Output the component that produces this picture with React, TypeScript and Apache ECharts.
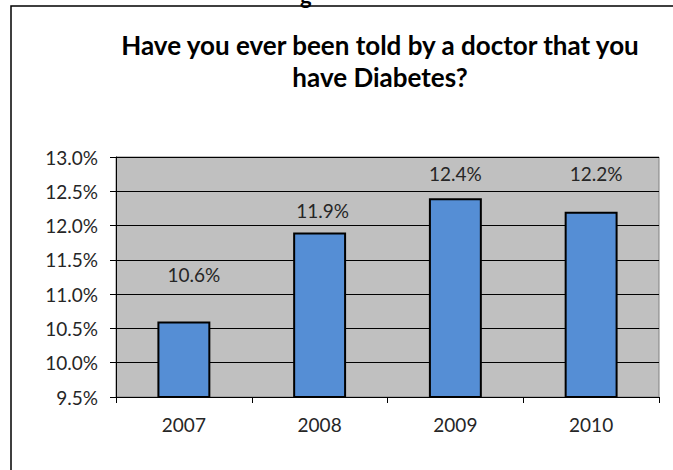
import React, { useEffect, useRef } from "react";
import * as echarts from "echarts";

const categories = ["2007", "2008", "2009", "2010"];
const values = [10.6, 11.9, 12.4, 12.2];
const yTicks = ["9.5%", "10.0%", "10.5%", "11.0%", "11.5%", "12.0%", "12.5%", "13.0%"];
const titleLines = ["Have you ever been told by a doctor that you", "have Diabetes?"];
// Manual label nudges as in the original chart (styling, not data)
const labelNudges: [number, number][] = [[10, -33], [3, -7], [0, -10], [5, -24]];

export default function App() {
  const ref = useRef<HTMLDivElement>(null);
  useEffect(() => {
    if (!ref.current) return;
    const chart = echarts.init(ref.current, null, { renderer: "svg" });
    const font = "Lato, 'Open Sans', sans-serif";
    chart.setOption({
      animation: false,
      backgroundColor: "#ffffff",
      title: {
        text: titleLines.join("\n"),
        left: 375,
        top: 24,
        textAlign: "center",
        textStyle: {
          fontFamily: font,
          fontWeight: "bold",
          fontSize: 26,
          lineHeight: 32,
          color: "#000000",
        },
      },
      graphic: [
        {
          type: "rect",
          shape: { x: 11, y: 6, width: 720, height: 520 },
          style: { fill: "none", stroke: "#000000", lineWidth: 1.5 },
          silent: true,
        },
        {
          type: "text",
          x: 300,
          y: -16,
          style: { text: "g", font: "bold 22px Lato, sans-serif", fill: "#000" },
          silent: true,
        },
      ],
      grid: {
        left: 116,
        right: 14,
        top: 157,
        bottom: 73,
        show: true,
        backgroundColor: "#C0C0C0",
        borderColor: "#808080",
        borderWidth: 1,
      },
      xAxis: {
        type: "category",
        data: categories,
        boundaryGap: true,
        axisLine: { show: true, lineStyle: { color: "#000000", width: 1 } },
        axisTick: { show: true, alignWithLabel: false, length: 6, lineStyle: { color: "#000000" } },
        axisLabel: { fontFamily: font, fontSize: 19, color: "#262626", margin: 18 },
        splitLine: { show: false },
      },
      yAxis: {
        type: "value",
        min: 9.5,
        max: 13,
        interval: 0.5,
        axisLine: { show: true, lineStyle: { color: "#000000", width: 1 } },
        axisTick: { show: true, length: 6, lineStyle: { color: "#000000" } },
        axisLabel: {
          fontFamily: font,
          fontSize: 19,
          color: "#262626",
          margin: 18,
          formatter: (v: number) => {
            const idx = Math.round((v - 9.5) / 0.5);
            return yTicks[idx] ?? v.toFixed(1) + "%";
          },
        },
        splitLine: { show: true, lineStyle: { color: "#000000", width: 1 } },
      },
      series: [
        {
          type: "bar",
          barWidth: "39%",
          data: values.map((v, i) => ({
            value: v,
            label: { offset: labelNudges[i] },
          })),
          itemStyle: { color: "#558ED5", borderColor: "#000000", borderWidth: 2 },
          label: {
            show: true,
            position: "top",
            fontFamily: font,
            fontSize: 19,
            color: "#262626",
            formatter: (p: any) => p.value.toFixed(1) + "%",
          },
        },
      ],
    });
    return () => chart.dispose();
  }, []);
  return (
    <div
      ref={ref}
      style={{ position: "fixed", left: 0, top: 0, width: 673, height: 470 }}
    />
  );
}
